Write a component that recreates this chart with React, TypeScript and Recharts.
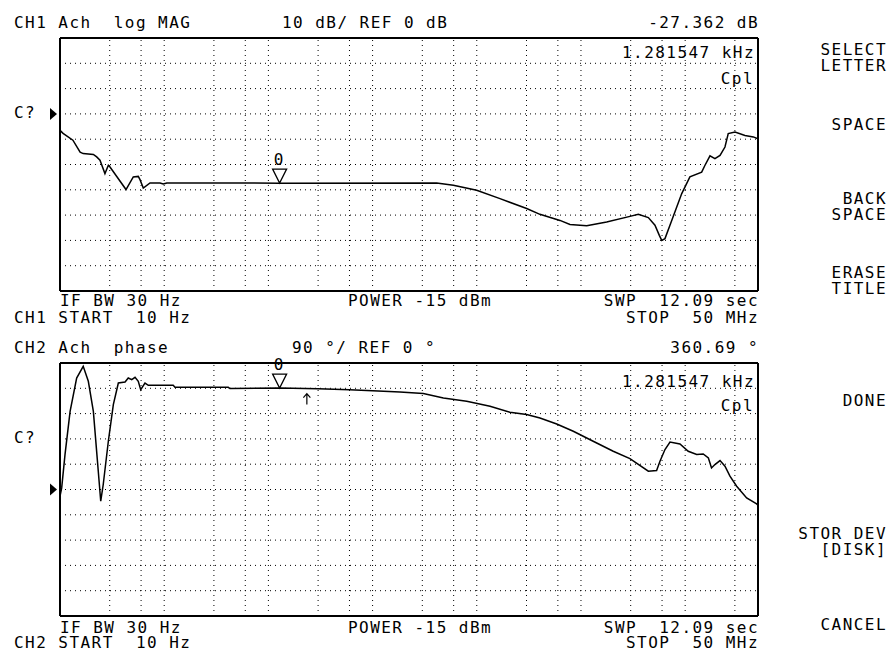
import React from 'react';
import { LineChart, Line, XAxis, YAxis, CartesianGrid, ReferenceLine, ReferenceDot } from 'recharts';

// ---- data ----
const freqTicks = [30, 60, 100, 300, 600, 1000, 3000, 6000, 1e4, 3e4, 6e4, 1e5, 3e5, 6e5, 1e6, 3e6, 6e6, 1e7, 3e7];
const magTicks = [-60, -50, -40, -30, -20, -10, 0, 10, 20];
const phaseTicks = [-360, -270, -180, -90, 0, 90, 180, 270, 360];

const magFreq = [10, 10.7, 13.3, 15.6, 16.7, 20.9, 22.5, 24.2, 27.0, 29.1, 30.2, 43.0, 50.5, 56.4, 58.6, 63.0, 73.1, 91.2, 98, 106, 1281.547, 41200, 59600, 99800, 167000, 301000, 404000, 629000, 784000, 1135000, 1765000, 2950000, 3550000, 4430000, 5130000, 5650000, 5960000, 6400000, 7430000, 9270000, 11100000, 14400000, 15500000, 17300000, 19300000, 21600000, 24100000, 25900000, 30100000, 37500000, 45100000, 50000000];
const magDb = [-6.5, -7.7, -10.4, -15.1, -15.7, -16.0, -17.0, -18.3, -23.6, -20.3, -21.0, -29.9, -24.9, -24.7, -26.0, -29.3, -27.3, -27.3, -27.7, -27.3, -27.362, -27.3, -28.2, -30.2, -33.5, -37.4, -39.7, -42.1, -43.7, -44.2, -42.7, -40.5, -39.7, -41.0, -44.0, -48.0, -50.0, -49.3, -42.1, -31.5, -24.9, -23.0, -20.3, -16.6, -17.7, -16.4, -13.1, -7.8, -7.2, -8.5, -9.1, -9.8];

const phaseFreq = [10, 10.05, 10.38, 11.17, 12.5, 14.45, 16.7, 18.7, 20.9, 23.3, 24.6, 26.0, 29.1, 32.5, 36.3, 42.1, 45.2, 48.8, 52.5, 56.4, 59.5, 65.4, 70.4, 122, 127, 412, 428, 1281.547, 3000, 6000, 10000, 18300, 30700, 47800, 80000, 134000, 208000, 301000, 404000, 585000, 844000, 1310000, 2040000, 2950000, 4430000, 5320000, 5730000, 6400000, 7150000, 8910000, 10700000, 12900000, 14900000, 16700000, 17900000, 19300000, 21600000, 24100000, 26900000, 31200000, 38900000, 48500000, 50000000];
const phaseDeg = [-95, -20, 5.7, 124, 278, 396.5, 438, 385, 278, 65, -41.6, 17.8, 171.6, 302, 378.8, 382.3, 396.5, 390.8, 399, 384.8, 355.3, 378.8, 370.6, 370.6, 363.5, 363.5, 358.9, 360.69, 358, 355, 351, 346.8, 341.1, 325.5, 313.7, 296, 274.6, 266.5, 254.4, 233.1, 207.1, 171.6, 136.1, 110.1, 65.0, 67.5, 100.6, 142.1, 169.1, 162.0, 136.1, 124.4, 126.5, 112.3, 76.7, 88.8, 103.0, 82.8, 47.3, 11.7, -29.8, -51.2, -55.8];

const markerFreq = 1281.547;
const markerMag = -27.362;
const markerPhase = 360.69;
const arrowFreq = 2340;
const arrowPhase = 359;

const magData = magFreq.map((f, i) => ({ f, v: magDb[i] }));
const phaseData = phaseFreq.map((f, i) => ({ f, v: phaseDeg[i] }));

const FONT = '"DejaVu Sans Mono", monospace';

const MarkerShape = (props: any) => {
  const { cx, cy } = props;
  return (
    <g>
      <path d={`M${cx - 7},${cy - 14} L${cx + 7},${cy - 14} L${cx},${cy} Z`} fill="none" stroke="#000" strokeWidth={1.3} />
      <text x={cx - 1} y={cy - 18} textAnchor="middle" fontFamily={FONT} fontSize={16} fill="#000">0</text>
    </g>
  );
};

const PointerShape = (props: any) => {
  const { cx, cy } = props;
  return <path d={`M${cx - 10},${cy - 6} L${cx - 3},${cy} L${cx - 10},${cy + 6} Z`} fill="#000" />;
};

const ArrowShape = (props: any) => {
  const { cx, cy } = props;
  return (
    <path d={`M${cx},${cy + 16} L${cx},${cy + 5} M${cx - 3.5},${cy + 9} L${cx},${cy + 5} L${cx + 3.5},${cy + 9}`} fill="none" stroke="#000" strokeWidth={1.2} />
  );
};

function Panel({ data, yDomain, yTicks, height, top, bottom, mFreq, mVal, arrow }: any) {
  return (
    <LineChart width={890} height={height} data={data} margin={{ top, right: 132, bottom, left: 60 }}>
      <XAxis dataKey="f" type="number" scale="log" domain={[10, 5e7]} ticks={freqTicks} allowDataOverflow hide />
      <YAxis type="number" domain={yDomain} ticks={yTicks} allowDataOverflow hide />
      <CartesianGrid stroke="#000" strokeWidth={1} strokeDasharray="1 4" vertical={false} />
      {freqTicks.map((t) => (
        <ReferenceLine key={t} x={t} stroke="#000" strokeWidth={1} strokeDasharray="1 4" />
      ))}
      <ReferenceLine x={10} stroke="#000" strokeWidth={2} />
      <ReferenceLine x={5e7} stroke="#000" strokeWidth={2} />
      <ReferenceLine y={yDomain[0]} stroke="#000" strokeWidth={2} />
      <ReferenceLine y={yDomain[1]} stroke="#000" strokeWidth={2} />
      <Line type="linear" dataKey="v" stroke="#000" strokeWidth={1.5} dot={false} isAnimationActive={false} />
      <ReferenceDot x={mFreq} y={mVal} r={0} shape={MarkerShape} />
      <ReferenceDot x={10} y={0} r={0} shape={PointerShape} />
      {arrow ? <ReferenceDot x={arrow[0]} y={arrow[1]} r={0} shape={ArrowShape} /> : null}
    </LineChart>
  );
}

const T = ({ x, y, anchor, children }: any) => (
  <text x={x} y={y} textAnchor={anchor || 'start'} fontFamily={FONT} fontSize={16} letterSpacing={1.45} fill="#000" style={{ whiteSpace: 'pre' }}>{children}</text>
);

export default function App() {
  return (
    <div style={{ position: 'relative', width: 890, height: 651, background: '#fff', overflow: 'hidden' }}>
      <style>{`body{margin:0;background:#fff}`}</style>
      <div style={{ position: 'absolute', left: 0, top: 0 }}>
        <Panel data={magData} yDomain={[-70, 30]} yTicks={magTicks} height={300} top={38} bottom={9} mFreq={markerFreq} mVal={markerMag} />
      </div>
      <div style={{ position: 'absolute', left: 0, top: 330 }}>
        <Panel data={phaseData} yDomain={[-450, 450]} yTicks={phaseTicks} height={321} top={33} bottom={35} mFreq={markerFreq} mVal={markerPhase} arrow={[arrowFreq, arrowPhase]} />
      </div>
      <svg width={890} height={651} style={{ position: 'absolute', left: 0, top: 0, pointerEvents: 'none' }}>
        <T x={14} y={28}>{'CH1 Ach  log MAG'}</T>
        <T x={282} y={28}>{'10 dB/ REF 0 dB'}</T>
        <T x={759} y={28} anchor="end">{'-27.362 dB'}</T>
        <T x={755} y={58} anchor="end">{'1.281547 kHz'}</T>
        <T x={754} y={84} anchor="end">{'Cpl'}</T>
        <T x={14} y={118}>{'C?'}</T>
        <T x={60} y={306}>{'IF BW 30 Hz'}</T>
        <T x={348} y={306}>{'POWER -15 dBm'}</T>
        <T x={759} y={306} anchor="end">{'SWP  12.09 sec'}</T>
        <T x={14} y={323}>{'CH1 START  10 Hz'}</T>
        <T x={759} y={323} anchor="end">{'STOP  50 MHz'}</T>

        <T x={14} y={353}>{'CH2 Ach  phase'}</T>
        <T x={292} y={353}>{'90 °/ REF 0 °'}</T>
        <T x={759} y={353} anchor="end">{'360.69 °'}</T>
        <T x={755} y={387} anchor="end">{'1.281547 kHz'}</T>
        <T x={754} y={411} anchor="end">{'Cpl'}</T>
        <T x={14} y={443}>{'C?'}</T>
        <T x={60} y={633}>{'IF BW 30 Hz'}</T>
        <T x={348} y={633}>{'POWER -15 dBm'}</T>
        <T x={759} y={633} anchor="end">{'SWP  12.09 sec'}</T>
        <T x={14} y={648}>{'CH2 START  10 Hz'}</T>
        <T x={759} y={648} anchor="end">{'STOP  50 MHz'}</T>

        <T x={887} y={55} anchor="end">{'SELECT'}</T>
        <T x={887} y={71} anchor="end">{'LETTER'}</T>
        <T x={887} y={130} anchor="end">{'SPACE'}</T>
        <T x={887} y={204} anchor="end">{'BACK'}</T>
        <T x={887} y={220} anchor="end">{'SPACE'}</T>
        <T x={887} y={278} anchor="end">{'ERASE'}</T>
        <T x={887} y={294} anchor="end">{'TITLE'}</T>
        <T x={887} y={406} anchor="end">{'DONE'}</T>
        <T x={887} y={539} anchor="end">{'STOR DEV'}</T>
        <T x={887} y={555} anchor="end">{'[DISK]'}</T>
        <T x={887} y={630} anchor="end">{'CANCEL'}</T>
      </svg>
    </div>
  );
}
